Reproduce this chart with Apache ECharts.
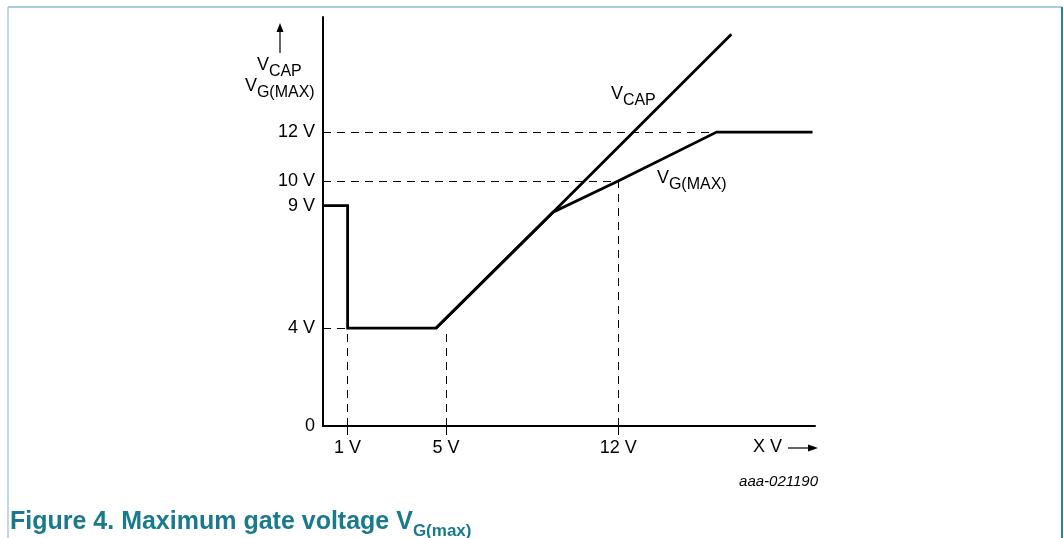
<!DOCTYPE html>
<html>
<head>
<meta charset="utf-8">
<script src="https://cdn.jsdelivr.net/npm/echarts@6/dist/echarts.min.js"></script>
<style>
html,body{margin:0;padding:0;background:#fff;}
#chart{width:1064px;height:538px;}
</style>
</head>
<body>
<div id="chart"></div>
<script>
// ---- data ----
const xTickValues = [1, 5, 12];
const xTickLabels = ['1 V', '5 V', '12 V'];
const yTickValues = [0, 4, 9, 10, 12];
const yTickLabels = ['0', '4 V', '9 V', '10 V', '12 V'];

const vgmaxX = [0, 1, 1, 4.6, 9.35, 12, 16, 19.9];
const vgmaxY = [9, 9, 4, 4, 8.73, 10, 12, 12];

const vcapX = [4.6, 9.35, 16.6];
const vcapY = [4, 8.73, 16.0];

// dashed guide lines: [x1, y1, x2, y2]
const guideLines = [
  [0, 12, 16, 12],
  [0, 10, 12, 10],
  [0, 4, 1, 4],
  [1, 0, 1, 4],
  [5, 0, 5, 4],
  [12, 0, 12, 10]
];

const FONT = '"Liberation Sans", Arial, sans-serif';
const chart = echarts.init(document.getElementById('chart'), null, {renderer: 'canvas'});

function sub(x, y, main, s, mainSize, subSize) {
  // text with subscript, x = left, y = vertical middle of main letter
  return [
    {type: 'text', left: x, top: y - mainSize * 0.55, silent: true,
     style: {text: main, font: mainSize + 'px ' + FONT, fill: '#000'}},
    {type: 'text', left: x + mainSize * 0.66, top: y - subSize * 0.15, silent: true,
     style: {text: s, font: subSize + 'px ' + FONT, fill: '#000'}}
  ];
}

const graphics = [
  // frame
  {type: 'line', shape: {x1: 8, y1: 7, x2: 1062, y2: 7}, style: {stroke: '#a6d0d9', lineWidth: 2}, silent: true},
  {type: 'line', shape: {x1: 8, y1: 7, x2: 8, y2: 538}, style: {stroke: '#a6d0d9', lineWidth: 1.5}, silent: true},
  {type: 'line', shape: {x1: 1062, y1: 7, x2: 1062, y2: 538}, style: {stroke: '#1e8799', lineWidth: 2}, silent: true},
  // y axis arrow
  {type: 'line', shape: {x1: 280, y1: 53, x2: 280, y2: 30}, style: {stroke: '#000', lineWidth: 1.2}, silent: true},
  {type: 'polygon', shape: {points: [[276.5, 32], [283.5, 32], [280, 23]]}, style: {fill: '#000'}, silent: true},
  // x axis name arrow
  {type: 'line', shape: {x1: 788, y1: 448, x2: 810, y2: 448}, style: {stroke: '#000', lineWidth: 1.2}, silent: true},
  {type: 'polygon', shape: {points: [[808, 444.5], [808, 451.5], [818, 448]]}, style: {fill: '#000'}, silent: true},
  {type: 'text', left: 753, top: 438, silent: true,
   style: {text: 'X V', font: '18px ' + FONT, fill: '#000'}},
  // code
  {type: 'text', right: 246, top: 474, silent: true,
   style: {text: 'aaa-021190', font: 'italic 15px ' + FONT, fill: '#000'}},
  // title
  {type: 'text', left: 10, top: 510, silent: true,
   style: {
     text: '{m|Figure 4. Maximum gate voltage V}{s|G(max)}',
     rich: {
       m: {font: 'bold 25px ' + FONT, fill: '#1a7a8c', verticalAlign: 'bottom'},
       s: {font: 'bold 17px ' + FONT, fill: '#1a7a8c', verticalAlign: 'bottom', padding: [0, 0, -5, 0]}
     }
   }}
]
.concat(sub(257, 66, 'V', 'CAP', 18, 16))
.concat(sub(245, 87, 'V', 'G(MAX)', 18, 16))
.concat(sub(611, 95, 'V', 'CAP', 18, 16))
.concat(sub(657, 179, 'V', 'G(MAX)', 18, 16));

const option = {
  backgroundColor: '#fff',
  animation: false,
  grid: {left: 323, right: 249, top: 17, bottom: 112},
  xAxis: {
    type: 'value', min: 0, max: 20,
    axisLine: {lineStyle: {color: '#000', width: 2}},
    splitLine: {show: false},
    axisTick: {show: true, customValues: xTickValues, length: 9, lineStyle: {color: '#000', width: 1}},
    axisLabel: {
      customValues: xTickValues,
      formatter: v => xTickLabels[xTickValues.indexOf(v)],
      fontFamily: FONT, fontSize: 18, color: '#000', margin: 13
    }
  },
  yAxis: {
    type: 'value', min: 0, max: 16.7,
    axisLine: {show: true, lineStyle: {color: '#000', width: 2}},
    splitLine: {show: false},
    axisTick: {show: false},
    axisLabel: {
      customValues: yTickValues,
      formatter: v => yTickLabels[yTickValues.indexOf(v)],
      fontFamily: FONT, fontSize: 18, color: '#000', margin: 8
    }
  },
  graphic: graphics,
  series: [
    {
      type: 'line', name: 'VG(MAX)', symbol: 'none',
      data: vgmaxX.map((x, i) => [x, vgmaxY[i]]),
      lineStyle: {color: '#000', width: 2.8, join: 'miter'},
      markLine: {
        silent: true, symbol: ['none', 'none'], label: {show: false},
        lineStyle: {color: '#000', width: 1, type: [8, 6]},
        data: guideLines.map(g => [{coord: [g[0], g[1]]}, {coord: [g[2], g[3]]}])
      },
      z: 3
    },
    {
      type: 'line', name: 'VCAP', symbol: 'none',
      data: vcapX.map((x, i) => [x, vcapY[i]]),
      lineStyle: {color: '#000', width: 2.8},
      z: 3
    }
  ]
};
chart.setOption(option);
</script>
</body>
</html>
